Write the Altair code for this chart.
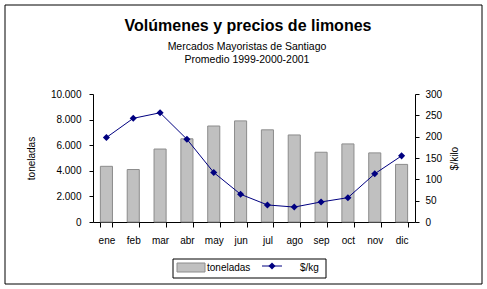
import altair as alt
import pandas as pd

meses = ["ene", "feb", "mar", "abr", "may", "jun", "jul", "ago", "sep", "oct", "nov", "dic"]
toneladas = [4350, 4100, 5700, 6500, 7500, 7900, 7200, 6800, 5450, 6100, 5400, 4500]
precio = [198, 243, 256, 194, 116, 65, 40, 35, 47, 57, 113, 155]
ticks_ton = [0, 2000, 4000, 6000, 8000, 10000]
ticks_precio = [0, 50, 100, 150, 200, 250, 300]
leyenda = ["toneladas", "$/kg"]
titulo = ["Volúmenes y precios de limones"]
subtitulos = ["Mercados Mayoristas de Santiago", "Promedio 1999-2000-2001"]

FONT = "Liberation Sans"
GRAY = "#C0C0C0"
NAVY = "#000080"

df = pd.DataFrame({"mes": meses, "toneladas": toneladas, "precio": precio})

x = alt.X(
    "mes:N", sort=meses,
    scale=alt.Scale(paddingInner=0.55, paddingOuter=0.275),
    axis=alt.Axis(title=None, tickBand="extent", labelAngle=0, tickSize=5,
                  labelPadding=8, domainColor="black", tickColor="black",
                  labelFontSize=10, labelColor="black", labelFont=FONT),
)

bars = alt.Chart(df).mark_bar(fill=GRAY, stroke="#8C8C8C", strokeWidth=1).encode(
    x=x,
    y=alt.Y("toneladas:Q", scale=alt.Scale(domain=[0, 10000]),
            axis=alt.Axis(title="toneladas", values=ticks_ton, grid=False,
                          labelExpr="replace(format(datum.value, ','), ',', '.')",
                          tickSize=4, labelPadding=8, titlePadding=14,
                          domainColor="black", tickColor="black",
                          labelFontSize=10, labelColor="black", labelFont=FONT,
                          titleFontSize=10, titleFontWeight="normal", titleColor="black",
                          titleFont=FONT)),
)

line = alt.Chart(df).mark_line(
    color=NAVY, strokeWidth=1,
    point=alt.OverlayMarkDef(shape="diamond", size=50, filled=True, color=NAVY),
).encode(
    x=x,
    y=alt.Y("precio:Q", scale=alt.Scale(domain=[0, 300]),
            axis=alt.Axis(title="$/kilo", orient="right", values=ticks_precio, grid=False,
                          tickSize=4, labelPadding=6, titlePadding=8, titleAngle=270,
                          titleBaseline="top",
                          domainColor="black", tickColor="black",
                          labelFontSize=10, labelColor="black", labelFont=FONT,
                          titleFontSize=10, titleFontWeight="normal", titleColor="black",
                          titleFont=FONT)),
)

one = pd.DataFrame({"k": [0]})

border = alt.Chart(one).mark_rect(fill="transparent", stroke="black", strokeWidth=1).encode(
    x=alt.value(-88), x2=alt.value(389), y=alt.value(-89), y2=alt.value(190))

title_main = alt.Chart(pd.DataFrame({"t": titulo})).mark_text(
    align="center", baseline="alphabetic", fontSize=16, fontWeight="bold", font=FONT,
    color="black").encode(x=alt.value(155), y=alt.value(-63), text="t:N")

sub1 = alt.Chart(pd.DataFrame({"t": subtitulos[:1]})).mark_text(
    align="center", baseline="alphabetic", fontSize=10.5, font=FONT,
    color="black").encode(x=alt.value(154), y=alt.value(-44), text="t:N")

sub2 = alt.Chart(pd.DataFrame({"t": subtitulos[1:]})).mark_text(
    align="center", baseline="alphabetic", fontSize=10.5, font=FONT,
    color="black").encode(x=alt.value(154), y=alt.value(-31), text="t:N")

leg_box = alt.Chart(one).mark_rect(fill="transparent", stroke="black", strokeWidth=1).encode(
    x=alt.value(80), x2=alt.value(233), y=alt.value(165), y2=alt.value(184))

leg_rect = alt.Chart(one).mark_rect(fill=GRAY, stroke="#8C8C8C", strokeWidth=1).encode(
    x=alt.value(84), x2=alt.value(112), y=alt.value(169), y2=alt.value(178))

leg_t1 = alt.Chart(pd.DataFrame({"t": [leyenda[0]]})).mark_text(
    align="left", baseline="alphabetic", fontSize=10, font=FONT, color="black").encode(
    x=alt.value(114), y=alt.value(177), text="t:N")

leg_line = alt.Chart(one).mark_rule(color=NAVY, strokeWidth=1).encode(
    x=alt.value(169), x2=alt.value(189), y=alt.value(172))

leg_pt = alt.Chart(one).mark_point(shape="diamond", size=50, filled=True, color=NAVY, opacity=1).encode(
    x=alt.value(179), y=alt.value(172))

leg_t2 = alt.Chart(pd.DataFrame({"t": [leyenda[1]]})).mark_text(
    align="left", baseline="alphabetic", fontSize=10, font=FONT, color="black").encode(
    x=alt.value(207), y=alt.value(177), text="t:N")

chart = alt.layer(bars, line, border, title_main, sub1, sub2,
                  leg_box, leg_rect, leg_t1, leg_line, leg_pt, leg_t2).resolve_scale(
    y="independent"
).properties(
    width=322, height=128,
    padding={"left": 93, "top": 94, "right": 72, "bottom": 67},
    autosize=alt.AutoSizeParams(type="none"),
    background="white",
).configure_view(stroke=None)

chart.save("out.html", embed_options={"renderer": "svg", "actions": False})
